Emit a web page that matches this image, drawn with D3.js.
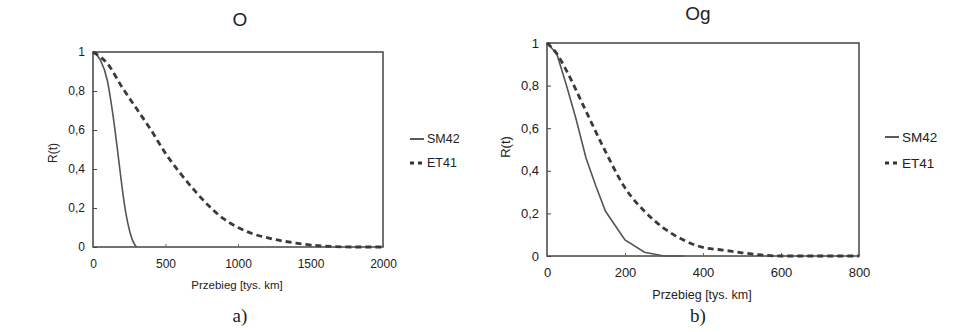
<!DOCTYPE html>
<meta charset="utf-8">
<script src="https://d3js.org/d3.v7.min.js"></script>
<style>
  body { margin: 0; background: #fff; }
  text { font-family: "Liberation Sans", Arial, sans-serif; fill: #222; }
</style>
<div id="chart"></div>
<script>

// data: reliability R(t) vs mileage [thousand km]
var yTicks = [0, 0.2, 0.4, 0.6, 0.8, 1];
var yTickLabels = ["0", "0,2", "0,4", "0,6", "0,8", "1"];
var seriesNames = ["SM42", "ET41"];

// panel a) "O"
var xTicksA = [0, 500, 1000, 1500, 2000];
var sm42A = [[0,1],[50,0.96],[100,0.85],[125,0.74],[150,0.61],[175,0.46],[200,0.31],[225,0.18],[250,0.09],[275,0.03],[300,0]];
var et41A = [[0,1],[100,0.94],[200,0.82],[300,0.71],[400,0.6],[500,0.48],[600,0.38],[700,0.29],[800,0.21],[900,0.145],
             [1000,0.1],[1100,0.068],[1200,0.048],[1300,0.032],[1400,0.02],[1500,0.01],[1600,0.005],[1800,0],[2000,0]];

// panel b) "Og"
var xTicksB = [0, 200, 400, 600, 800];
var sm42B = [[0,1],[25,0.95],[50,0.8],[75,0.64],[100,0.46],[125,0.33],[150,0.21],[200,0.075],[250,0.018],[300,0],[350,0]];
var et41B = [[0,1],[25,0.95],[50,0.87],[100,0.68],[150,0.49],[200,0.32],[250,0.21],[300,0.13],[350,0.075],[400,0.04],
             [450,0.028],[500,0.015],[550,0.005],[600,0],[800,0]];

var svg = d3.select("#chart").append("svg")
  .attr("width", 965)
  .attr("height", 332);

svg.append("rect").attr("width", 965).attr("height", 332).attr("fill", "#fff");

function panel(cfg) {
  var x = d3.scaleLinear().domain(cfg.xDomain).range([cfg.left, cfg.right]);
  var y = d3.scaleLinear().domain([0, 1]).range([cfg.bottom, cfg.top]);
  var g = svg.append("g");

  // frame
  g.append("rect")
    .attr("x", cfg.left).attr("y", cfg.top)
    .attr("width", cfg.right - cfg.left).attr("height", cfg.bottom - cfg.top)
    .attr("fill", "none").attr("stroke", "#444").attr("stroke-width", 1.5);

  // y axis (inward ticks, comma decimals)
  var yAxis = d3.axisLeft(y).tickValues(yTicks).tickSize(-4).tickPadding(8)
    .tickFormat(function(d, i) { return yTickLabels[i]; });
  g.append("g").attr("transform", "translate(" + cfg.left + ",0)").call(yAxis)
    .call(function(a) {
      a.select(".domain").remove();
      a.selectAll("line").attr("stroke", "#444");
      a.selectAll("text").attr("font-size", cfg.fs).attr("fill", "#222");
    });

  var xAxis = d3.axisBottom(x).tickValues(cfg.xTicks).tickSize(-3).tickPadding(12)
    .tickFormat(d3.format("d"));
  g.append("g").attr("transform", "translate(0," + cfg.bottom + ")").call(xAxis)
    .call(function(a) {
      a.select(".domain").remove();
      a.selectAll("line").attr("stroke", "#666");
      a.selectAll("text").attr("font-size", cfg.fs).attr("fill", "#222");
    });

  var line = d3.line()
    .x(function(d) { return x(d[0]); })
    .y(function(d) { return y(d[1]); })
    .curve(d3.curveMonotoneX);

  g.append("path").datum(cfg.sm42).attr("d", line.curve(cfg.solidCurve))
    .attr("fill", "none").attr("stroke", "#555").attr("stroke-width", 1.6);
  g.append("path").datum(cfg.et41).attr("d", line.curve(d3.curveMonotoneX))
    .attr("fill", "none").attr("stroke", "#3a3a3a").attr("stroke-width", 2.8)
    .attr("stroke-dasharray", "6,4");

  // titles
  g.append("text").attr("x", cfg.titleX).attr("y", cfg.titleY)
    .attr("text-anchor", "middle").attr("font-size", 19).text(cfg.title);
  g.append("text").attr("x", cfg.xLabelX).attr("y", cfg.xLabelY)
    .attr("text-anchor", "middle").attr("font-size", cfg.fs - 0.5).attr("fill", "#222")
    .text("Przebieg [tys. km]");
  g.append("text")
    .attr("transform", "translate(" + cfg.yLabelX + "," + cfg.yLabelY + ")rotate(-90)")
    .attr("text-anchor", "middle").attr("font-size", cfg.fs).attr("fill", "#222")
    .text("R(t)");
  g.append("text").attr("x", cfg.titleX).attr("y", 322)
    .attr("text-anchor", "middle").attr("font-size", 19)
    .style("font-family", "'Liberation Serif', 'Times New Roman', serif")
    .text(cfg.sub);

  // legend
  var styles = [{w: 1.6, dash: null}, {w: 2.8, dash: "4,4"}];
  seriesNames.forEach(function(n, i) {
    var ly = cfg.legY[i];
    g.append("line").attr("x1", cfg.legX).attr("x2", cfg.legX + 14)
      .attr("y1", ly).attr("y2", ly)
      .attr("stroke", "#333").attr("stroke-width", styles[i].w)
      .attr("stroke-dasharray", styles[i].dash);
    g.append("text").attr("x", cfg.legX + 17).attr("y", ly).attr("dy", "0.35em")
      .attr("font-size", cfg.fs + 0.5).attr("fill", "#222").text(n);
  });
}

panel({
  xDomain: [0, 2000], xTicks: xTicksA, left: 93, right: 383, top: 52, bottom: 247, fs: 12,
  sm42: sm42A, et41: et41A, solidCurve: d3.curveMonotoneX,
  title: "O", titleX: 240, titleY: 26, sub: "a)",
  xLabelX: 237, xLabelY: 289, yLabelX: 57, yLabelY: 153, legX: 410, legY: [139, 163]
});

panel({
  xDomain: [0, 800], xTicks: xTicksB, left: 547, right: 859, top: 43, bottom: 256, fs: 13,
  sm42: sm42B, et41: et41B, solidCurve: d3.curveLinear,
  title: "Og", titleX: 698, titleY: 20, sub: "b)",
  xLabelX: 702, xLabelY: 299, yLabelX: 510, yLabelY: 147, legX: 885, legY: [137, 163]
});

</script>
